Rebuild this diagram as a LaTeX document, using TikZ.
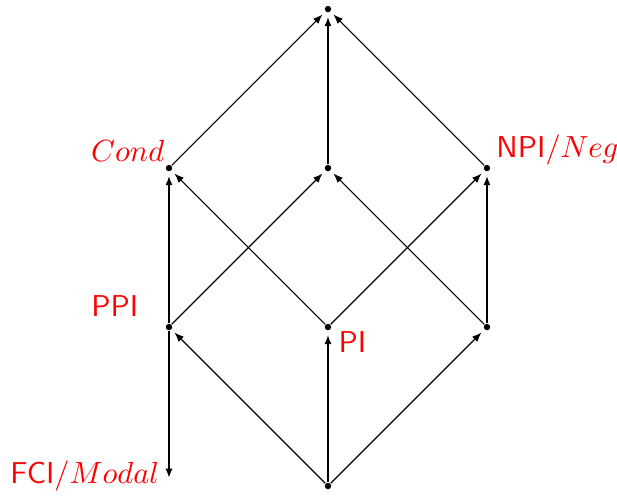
\documentclass[tikz,border=0pt]{standalone}
\usepackage{amsmath}
\usepackage{xcolor}
\usepackage{tikz}
\usetikzlibrary{arrows.meta}
\definecolor{LblRed}{RGB}{255,0,0}

\begin{document}
\begin{tikzpicture}[x=2cm, y=2cm,
		pt/.style={circle, fill, inner sep=0pt, minimum size=2.3pt},
		lbl/.style={text=LblRed, font=\sffamily\fontsize{10.8}{13}\selectfont, inner sep=0pt},
		up/.style={-{Latex[length=3.4pt, width=2.6pt]}, shorten >=1.4pt},
		vert/.style={up, thick}]
		\useasboundingbox (-2.063,-0.113) rectangle (1.818,3.057);
		% lattice points
		\node[pt] (bot)  at (0,0) {};
		\node[pt] (ppi)  at (-1,1) {};
		\node[pt] (pi)   at (0,1) {};
		\node[pt] (rgt)  at (1,1) {};
		\node[pt] (cond) at (-1,2) {};
		\node[pt] (mid)  at (0,2) {};
		\node[pt] (npi)  at (1,2) {};
		\node[pt] (top)  at (0,3) {};
		\coordinate (fci) at (-1,0.05);
		
		% bottom row
		\draw[up] (bot) -- (ppi);
		\draw[vert] (bot) -- (pi);
		\draw[up] (bot) -- (rgt);
		% middle row
		\draw[vert] (ppi) -- (cond);
		\draw[up] (ppi) -- (mid);
		\draw[up] (pi) -- (cond);
		\draw[up] (pi) -- (npi);
		\draw[up] (rgt) -- (mid);
		\draw[vert] (rgt) -- (npi);
		% top row
		\draw[up] (cond) -- (top);
		\draw[vert] (mid) -- (top);
		\draw[up] (npi) -- (top);
		% down to FCI
		\draw[vert, shorten >=0pt] (ppi) -- (fci);
		
		\node[lbl, anchor=base east, xshift=-1.5pt, yshift=2.5pt] (condlbl) at (cond) {$Cond$};
		\node[lbl, anchor=base west, xshift=3.2pt, yshift=3.6pt] (npilbl) at (npi) {NPI/$Neg$};
		\node[lbl, anchor=base east, xshift=-10.8pt, yshift=3.6pt] (ppilbl) at (ppi) {PPI};
		\node[lbl, anchor=north west, xshift=3.6pt, yshift=-1.4pt] (pilbl) at (pi) {PI};
		\node[lbl, anchor=base east, xshift=-3.3pt, yshift=-1.8pt] (fcilbl) at (fci) {FCI/$Modal$};
	\end{tikzpicture}
\end{document}
